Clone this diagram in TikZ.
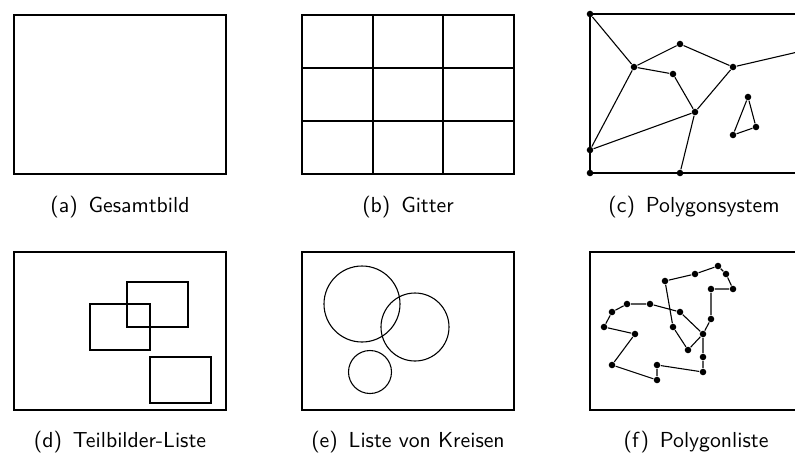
\documentclass[tikz,border=0pt]{standalone}
\usepackage{tikz}
\usetikzlibrary{positioning}
\begin{document}
\begin{tikzpicture}[x=0.46pt, y=-0.46pt, line width=0.5pt, font=\sffamily,
    frame/.style={draw, line width=0.6pt},
    pt/.style={circle, fill, inner sep=0pt, minimum size=3pt},
    capt/.style={anchor=base}]
  \useasboundingbox (0,0) rectangle (795,457);

  \draw[frame] (14,15) rectangle (226,174);
  \node[capt] (capa) at (120,212) {(a)\enspace Gesamtbild};

  \draw[frame] (302,15) rectangle (514,174);
  \foreach \x in {373,443} \draw (\x,15) -- (\x,174);
  \foreach \y in {68,121} \draw (302,\y) -- (514,\y);
  \node[capt] (capb) at (408,212) {(b)\enspace Gitter};

  \draw[frame] (590,14) rectangle (802,173);
  \foreach \n/\x/\y in {1/590/14, 2/634/67, 3/680/44, 4/673/74, 5/733/67,
      6/695/112, 7/590/150, 8/590/173, 9/680/173, 11/748/97, 12/756/127, 13/733/135}
    \node[pt] (c\n) at (\x,\y) {};
  \coordinate (c10) at (802,51);
  \draw (c1) -- (c2) -- (c3) -- (c5) -- (c10);
  \draw (c2) -- (c4) -- (c6) -- (c5);
  \draw (c2) -- (c7) -- (c6) -- (c9);
  \draw (c11) -- (c12) -- (c13) -- (c11);
  \node[capt] (capc) at (694,212) {(c)\enspace Polygonsystem};

  \draw[frame] (14,252) rectangle (226,410);
  \draw (90,304) rectangle (150,350);
  \draw (127,282) rectangle (188,327);
  \draw (150,357) rectangle (211,403);
  \node[capt] (capd) at (120,447) {(d)\enspace Teilbilder-Liste};

  \draw[frame] (302,252) rectangle (514,410);
  \draw (362,304) circle (38);
  \draw (415,327) circle (34);
  \draw (370,372) circle (21.5);
  \node[capt] (cape) at (408,447) {(e)\enspace Liste von Kreisen};

  \draw[frame] (590,252) rectangle (802,410);
  \foreach \n/\x/\y in {a/665/281, b/695/274, c/718/266, d/726/274, e/733/289,
      f/711/289, g/711/319, h/703/334, i/703/357, j/703/372, k/657/365,
      l/657/380, m/612/365, n/635/334, o/604/327, p/612/312, q/627/304,
      r/650/304, s/680/312, u/688/350, t/673/327}
    \node[pt] (f\n) at (\x,\y) {};
  \draw (fa) -- (fb) -- (fc) -- (fd) -- (fe) -- (ff) -- (fg) -- (fh) -- (fi)
    -- (fj) -- (fk) -- (fl) -- (fm) -- (fn) -- (fo) -- (fp) -- (fq) -- (fr)
    -- (fs) -- (fh) -- (fu) -- (ft) -- (fa);
  \node[capt] (capf) at (696,447) {(f)\enspace Polygonliste};
\end{tikzpicture}
\end{document}
